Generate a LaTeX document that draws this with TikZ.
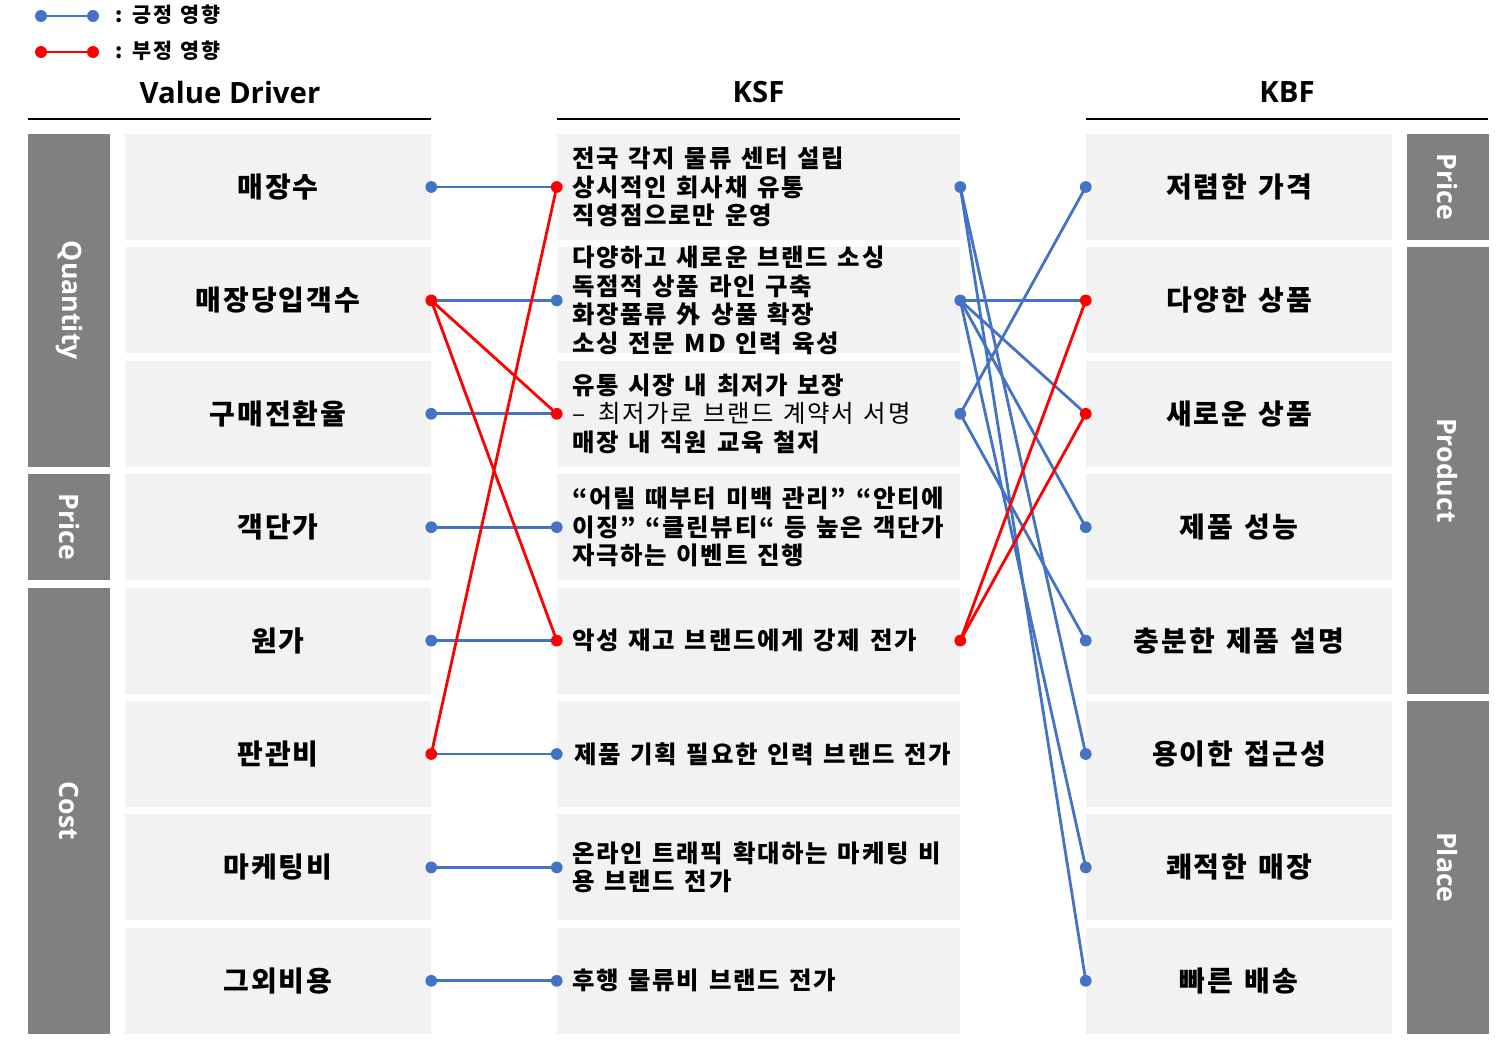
\documentclass[tikz,border=0pt]{standalone}
\usepackage{fontspec}
\newfontfamily\kr{Noto Sans CJK KR}[LetterSpace=7,WordSpace=1.35]
\newfontfamily\os{Open Sans}
\definecolor{posblue}{HTML}{4472C4}
\definecolor{negred}{HTML}{FF0000}
\definecolor{boxg}{HTML}{F2F2F2}
\definecolor{catg}{HTML}{808080}
\begin{document}
\begin{tikzpicture}[x=0.75pt,y=-0.75pt,
  box/.style={fill=boxg, inner sep=0pt, minimum height=79.5pt},
  vbox/.style={box, minimum width=229.5pt, font=\kr\bfseries\fontsize{21}{25}\selectfont},
  kbox/.style={box, minimum width=302.25pt},
  ktxt/.style={anchor=west, align=left, inner sep=0pt, font=\kr\fontsize{18.3}{21.4}\selectfont},
  catbox/.style={fill=catg, inner sep=0pt, minimum width=61.5pt},
  cattxt/.style={rotate=-90, text=white, inner sep=0pt, font=\os\bfseries\fontsize{20}{24}\selectfont},
  hdr/.style={font=\os\bfseries\fontsize{22}{26}\selectfont},
  legtxt/.style={anchor=west, inner sep=0pt, font=\kr\bfseries\fontsize{15.5}{18}\selectfont},
  goodline/.style={line width=2.1pt, posblue},
  badline/.style={line width=2.1pt, negred},
  gooddot/.style={fill=posblue},
  baddot/.style={fill=negred}
]
\useasboundingbox (0,0) rectangle (1508,1042);
\fill[white] (0,0) rectangle (1508,1042);

% legend
\coordinate (la1) at (41,16); \coordinate (la2) at (93,16);
\coordinate (lb1) at (41,52); \coordinate (lb2) at (93,52);
\draw[goodline] (la1) -- (la2);
\draw[badline] (lb1) -- (lb2);
\foreach \p in {la1,la2} \fill[gooddot] (\p) circle[radius=4.5pt];
\foreach \p in {lb1,lb2} \fill[baddot] (\p) circle[radius=4.5pt];
\node[legtxt] (lt1) at (115,15) {: 긍정 영향};
\node[legtxt] (lt2) at (115,51) {: 부정 영향};

% headers
\node[hdr] (hvd) at (230,92) {Value Driver};
\node[hdr] (hksf) at (758.5,92) {KSF};
\node[hdr] (hkbf) at (1287,92) {KBF};
\draw[line width=1.1pt] (28,119) -- (431,119);
\draw[line width=1.1pt] (557,119) -- (960,119);
\draw[line width=1.1pt] (1086,119) -- (1488,119);

% left categories
\node[catbox, minimum height=249.6pt] (cq) at (69,300.4) {};
\node[cattxt] at (cq) {Quantity};
\node[catbox, minimum height=79.5pt] (cp) at (69,527.2) {};
\node[cattxt] at (cp) {Price};
\node[catbox, minimum height=334.65pt] (cc) at (69,810.7) {};
\node[cattxt] at (cc) {Cost};
% right categories
\node[catbox, minimum height=79.5pt] (rp) at (1447.5,187) {};
\node[cattxt] at (rp) {Price};
\node[catbox, minimum height=334.65pt] (rpr) at (1447.5,470.5) {};
\node[cattxt] at (rpr) {Product};
\node[catbox, minimum height=249.75pt] (rpl) at (1447.5,867.4) {};
\node[cattxt] at (rpl) {Place};

% value drivers
\node[vbox] (v1) at (278,187) {매장수};
\node[vbox] (v2) at (278,300.4) {매장당입객수};
\node[vbox] (v3) at (278,413.8) {구매전환율};
\node[vbox] (v4) at (278,527.2) {객단가};
\node[vbox] (v5) at (278,640.6) {원가};
\node[vbox] (v6) at (278,754) {판관비};
\node[vbox] (v7) at (278,867.4) {마케팅비};
\node[vbox] (v8) at (278,980.8) {그외비용};

% KSF
\foreach \i/\y in {1/187,2/300.4,3/413.8,4/527.2,5/640.6,6/754,7/867.4,8/980.8}
  \node[kbox] (k\i) at (758.5,\y) {};
\node[ktxt] (kt1) at ([xshift=11.25pt]k1.west) {\bfseries 전국 각지 물류 센터 설립\\\bfseries 상시적인 회사채 유통\\\bfseries 직영점으로만 운영};
\node[ktxt] (kt2) at ([xshift=11.25pt]k2.west) {\bfseries 다양하고 새로운 브랜드 소싱\\\bfseries 독점적 상품 라인 구축\\\bfseries 화장품류 外 상품 확장\\\bfseries 소싱 전문 MD 인력 육성};
\node[ktxt] (kt3) at ([xshift=11.25pt]k3.west) {\bfseries 유통 시장 내 최저가 보장\\{\mdseries –\hspace{10pt}최저가로 브랜드 계약서 서명}\\\bfseries 매장 내 직원 교육 철저};
\node[ktxt] (kt4) at ([xshift=11.25pt]k4.west) {\bfseries “어릴 때부터 미백 관리” “안티에\\\bfseries 이징” “클린뷰티“ 등 높은 객단가\\\bfseries 자극하는 이벤트 진행};
\node[ktxt] (kt5) at ([xshift=11.25pt]k5.west) {\bfseries 악성 재고 브랜드에게 강제 전가};
\node[ktxt] (kt6) at ([xshift=12.75pt]k6.west) {\bfseries 제품 기획 필요한 인력 브랜드 전가};
\node[ktxt] (kt7) at ([xshift=11.25pt]k7.west) {\bfseries 온라인 트래픽 확대하는 마케팅 비\\\bfseries 용 브랜드 전가};
\node[ktxt] (kt8) at ([xshift=11.25pt]k8.west) {\bfseries 후행 물류비 브랜드 전가};

% KBF
\node[vbox] (b1) at (1239,187) {저렴한 가격};
\node[vbox] (b2) at (1239,300.4) {다양한 상품};
\node[vbox] (b3) at (1239,413.8) {새로운 상품};
\node[vbox] (b4) at (1239,527.2) {제품 성능};
\node[vbox] (b5) at (1239,640.6) {충분한 제품 설명};
\node[vbox] (b6) at (1239,754) {용이한 접근성};
\node[vbox] (b7) at (1239,867.4) {쾌적한 매장};
\node[vbox] (b8) at (1239,980.8) {빠른 배송};

% positive links
\foreach \i in {1,...,8} \draw[goodline] (v\i.east) -- (k\i.west);
\foreach \a/\b in {k2/b2,k2/b3,k2/b4,k2/b7,k3/b1,k3/b5,k1/b6,k1/b8}
  \draw[goodline] (\a.east) -- (\b.west);
% negative links
\draw[badline] (v2.east) -- (k3.west);
\draw[badline] (v2.east) -- (k5.west);
\draw[badline] (v6.east) -- (k1.west);
\draw[badline] (k5.east) -- (b2.west);
\draw[badline] (k5.east) -- (b3.west);

% dots
\foreach \p in {v1.east,v3.east,v4.east,v5.east,v7.east,v8.east,
  k2.west,k4.west,k6.west,k7.west,k8.west,k1.east,k2.east,k3.east,
  b1.west,b4.west,b5.west,b6.west,b7.west,b8.west}
  \fill[gooddot] (\p) circle[radius=4.4pt];
\foreach \p in {v2.east,v6.east,k1.west,k3.west,k5.west,k5.east,b2.west,b3.west}
  \fill[baddot] (\p) circle[radius=4.4pt];
\end{tikzpicture}
\end{document}
